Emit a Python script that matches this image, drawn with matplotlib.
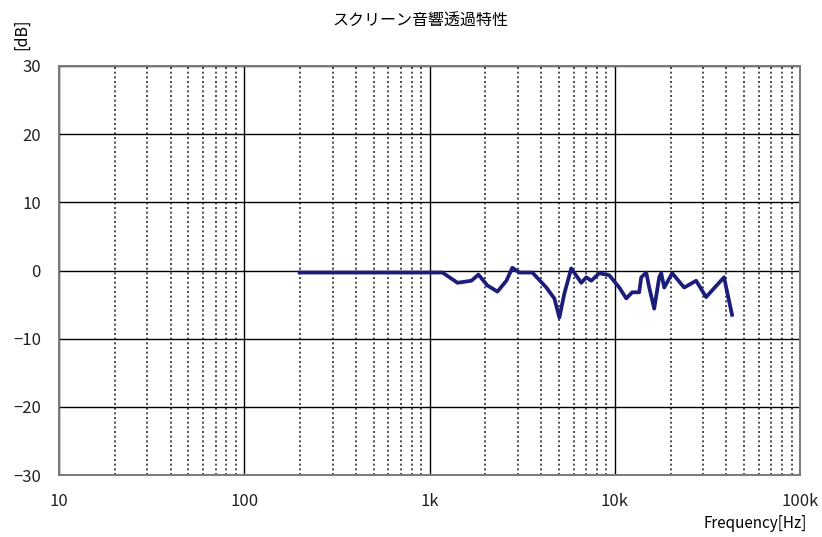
import matplotlib
matplotlib.use("Agg")
import matplotlib.pyplot as plt
from matplotlib.ticker import FixedLocator, NullFormatter

plt.rcParams['font.family'] = ['Noto Sans CJK JP', 'DejaVu Sans']

freq = [199, 1175, 1416, 1684, 1837, 2055, 2327, 2601, 2800, 3055, 3592, 4273, 4720,
        5023, 5344, 5822, 6596, 7020, 7472, 8247, 9342, 10580, 11540, 12420, 13550,
        13900, 14790, 15350, 16330, 17380, 17820, 18500, 20430, 23710, 27500, 31120,
        38900, 42960]
db = [-0.3, -0.3, -1.8, -1.5, -0.6, -2.2, -3.1, -1.5, 0.4, -0.3, -0.3, -2.5, -4.1,
      -6.9, -3.4, 0.3, -1.8, -1.0, -1.5, -0.4, -0.7, -2.5, -4.1, -3.2, -3.2,
      -1.0, -0.3, -2.5, -5.6, -1.0, -0.4, -2.5, -0.4, -2.5, -1.5, -3.9,
      -1.0, -6.5]

xticks = [10, 100, 1000, 10000, 100000]
xlabels = ['10', '100', '1k', '10k', '100k']
yticks = [-30, -20, -10, 0, 10, 20, 30]
ylabels = ['\u221230', '\u221220', '\u221210', '0', '10', '20', '30']

fig = plt.figure(figsize=(8.22, 5.37), dpi=100)
ax = fig.add_axes([59/822, 62/537, 741/822, 409/537])
ax.set_xscale('log')
ax.set_xlim(10, 100000)
ax.set_ylim(-30, 30)

minors = [m * 10**d for d in range(1, 5) for m in range(2, 10)]
ax.xaxis.set_major_locator(FixedLocator(xticks))
ax.xaxis.set_minor_locator(FixedLocator(minors))
ax.xaxis.set_minor_formatter(NullFormatter())
ax.set_xticks(xticks)
ax.set_xticklabels(xlabels)
ax.set_yticks(yticks)
ax.set_yticklabels(ylabels)

ax.grid(True, which='major', color='black', linewidth=1.0, linestyle='-')
ax.grid(True, which='minor', axis='x', color='#303030', linewidth=1.2, linestyle=(0, (1.2, 1.6)))
ax.set_axisbelow(True)
for s in ax.spines.values():
    s.set_color('#7a7a7a')
    s.set_linewidth(1.4)

ax.tick_params(which='both', length=0, labelsize=12, labelcolor='#222222')
ax.tick_params(axis='x', pad=13)
ax.tick_params(axis='y', pad=13)

ax.plot(freq, db, color='#1c1c7a', linewidth=2.7, solid_joinstyle='round')

fig.text(420/822, 1 - 20/537, 'スクリーン音響透過特性', ha='center', va='center', fontsize=11.5)
fig.text(22/822, 1 - 34/537, '[dB]', ha='center', va='center', rotation=90, fontsize=11.5)
fig.text(755/822, 1 - 524/537, 'Frequency[Hz]', ha='center', va='center', fontsize=11)

fig.savefig('out.png', dpi=100)
